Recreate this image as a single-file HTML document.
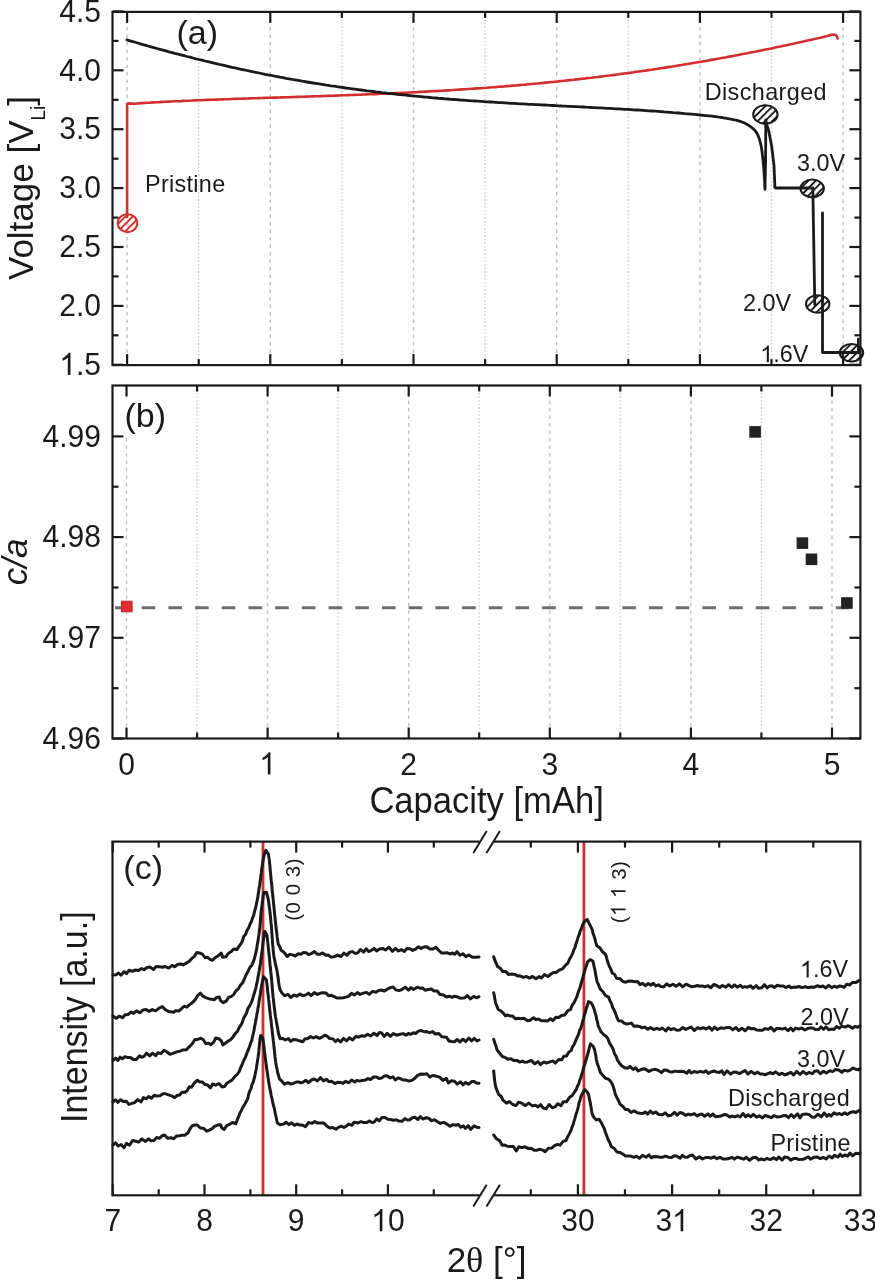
<!DOCTYPE html>
<html><head><meta charset="utf-8"><style>
html,body{margin:0;padding:0;background:#fff;width:875px;height:1280px;overflow:hidden}
</style></head><body>
<svg width="875" height="1280" viewBox="0 0 875 1280" style="display:block;will-change:transform">
<rect width="875" height="1280" fill="#fff"/>
<g font-family='"Liberation Sans", sans-serif' fill="#1a1a1a">
<line x1="127.1" y1="11.9" x2="127.1" y2="365.1" stroke="#c0c0c0" stroke-width="1.4" stroke-dasharray="3.6,3.9"/>
<line x1="198.7" y1="11.9" x2="198.7" y2="365.1" stroke="#d4d4d4" stroke-width="1.3" stroke-dasharray="1.8,1.8"/>
<line x1="270.3" y1="11.9" x2="270.3" y2="365.1" stroke="#c0c0c0" stroke-width="1.4" stroke-dasharray="3.6,3.9"/>
<line x1="341.9" y1="11.9" x2="341.9" y2="365.1" stroke="#d4d4d4" stroke-width="1.3" stroke-dasharray="1.8,1.8"/>
<line x1="413.5" y1="11.9" x2="413.5" y2="365.1" stroke="#c0c0c0" stroke-width="1.4" stroke-dasharray="3.6,3.9"/>
<line x1="485.1" y1="11.9" x2="485.1" y2="365.1" stroke="#d4d4d4" stroke-width="1.3" stroke-dasharray="1.8,1.8"/>
<line x1="556.7" y1="11.9" x2="556.7" y2="365.1" stroke="#c0c0c0" stroke-width="1.4" stroke-dasharray="3.6,3.9"/>
<line x1="628.3" y1="11.9" x2="628.3" y2="365.1" stroke="#d4d4d4" stroke-width="1.3" stroke-dasharray="1.8,1.8"/>
<line x1="699.9" y1="11.9" x2="699.9" y2="365.1" stroke="#c0c0c0" stroke-width="1.4" stroke-dasharray="3.6,3.9"/>
<line x1="771.5" y1="11.9" x2="771.5" y2="365.1" stroke="#d4d4d4" stroke-width="1.3" stroke-dasharray="1.8,1.8"/>
<line x1="843.1" y1="11.9" x2="843.1" y2="365.1" stroke="#c0c0c0" stroke-width="1.4" stroke-dasharray="3.6,3.9"/>
<rect x="112.5" y="11.9" width="747.9" height="353.20000000000005" fill="none" stroke="#1a1a1a" stroke-width="2.2"/>
<line x1="127.1" y1="365.1" x2="127.1" y2="354.1" stroke="#1a1a1a" stroke-width="2.2"/>
<line x1="127.1" y1="11.9" x2="127.1" y2="22.9" stroke="#1a1a1a" stroke-width="2.2"/>
<line x1="198.7" y1="365.1" x2="198.7" y2="359.1" stroke="#1a1a1a" stroke-width="2.2"/>
<line x1="198.7" y1="11.9" x2="198.7" y2="17.9" stroke="#1a1a1a" stroke-width="2.2"/>
<line x1="270.3" y1="365.1" x2="270.3" y2="354.1" stroke="#1a1a1a" stroke-width="2.2"/>
<line x1="270.3" y1="11.9" x2="270.3" y2="22.9" stroke="#1a1a1a" stroke-width="2.2"/>
<line x1="341.9" y1="365.1" x2="341.9" y2="359.1" stroke="#1a1a1a" stroke-width="2.2"/>
<line x1="341.9" y1="11.9" x2="341.9" y2="17.9" stroke="#1a1a1a" stroke-width="2.2"/>
<line x1="413.5" y1="365.1" x2="413.5" y2="354.1" stroke="#1a1a1a" stroke-width="2.2"/>
<line x1="413.5" y1="11.9" x2="413.5" y2="22.9" stroke="#1a1a1a" stroke-width="2.2"/>
<line x1="485.1" y1="365.1" x2="485.1" y2="359.1" stroke="#1a1a1a" stroke-width="2.2"/>
<line x1="485.1" y1="11.9" x2="485.1" y2="17.9" stroke="#1a1a1a" stroke-width="2.2"/>
<line x1="556.7" y1="365.1" x2="556.7" y2="354.1" stroke="#1a1a1a" stroke-width="2.2"/>
<line x1="556.7" y1="11.9" x2="556.7" y2="22.9" stroke="#1a1a1a" stroke-width="2.2"/>
<line x1="628.3" y1="365.1" x2="628.3" y2="359.1" stroke="#1a1a1a" stroke-width="2.2"/>
<line x1="628.3" y1="11.9" x2="628.3" y2="17.9" stroke="#1a1a1a" stroke-width="2.2"/>
<line x1="699.9" y1="365.1" x2="699.9" y2="354.1" stroke="#1a1a1a" stroke-width="2.2"/>
<line x1="699.9" y1="11.9" x2="699.9" y2="22.9" stroke="#1a1a1a" stroke-width="2.2"/>
<line x1="771.5" y1="365.1" x2="771.5" y2="359.1" stroke="#1a1a1a" stroke-width="2.2"/>
<line x1="771.5" y1="11.9" x2="771.5" y2="17.9" stroke="#1a1a1a" stroke-width="2.2"/>
<line x1="843.1" y1="365.1" x2="843.1" y2="354.1" stroke="#1a1a1a" stroke-width="2.2"/>
<line x1="843.1" y1="11.9" x2="843.1" y2="22.9" stroke="#1a1a1a" stroke-width="2.2"/>
<line x1="112.5" y1="364.8" x2="123.5" y2="364.8" stroke="#1a1a1a" stroke-width="2.2"/>
<line x1="860.4" y1="364.8" x2="849.4" y2="364.8" stroke="#1a1a1a" stroke-width="2.2"/>
<g transform="translate(101.00,375.00) scale(0.962,1)">
<path transform="translate(-43.37,0.00) scale(0.01523,-0.01523)" d="M763,0 L583,0 L583,1147 Q518,1085 412,1023 Q306,961 222,930 L222,1104 Q372,1174 484,1274 Q596,1374 643,1466 L763,1466 Z"/><text x="-26.02" y="0.00" font-size="31.2" letter-spacing="0.0" >.5</text>
</g>
<line x1="112.5" y1="335.3" x2="118.5" y2="335.3" stroke="#1a1a1a" stroke-width="2.2"/>
<line x1="860.4" y1="335.3" x2="854.4" y2="335.3" stroke="#1a1a1a" stroke-width="2.2"/>
<line x1="112.5" y1="305.9" x2="123.5" y2="305.9" stroke="#1a1a1a" stroke-width="2.2"/>
<line x1="860.4" y1="305.9" x2="849.4" y2="305.9" stroke="#1a1a1a" stroke-width="2.2"/>
<g transform="translate(101.00,316.10) scale(0.962,1)">
<text x="0.0" y="0.0" font-size="31.2" text-anchor="end" >2.0</text>
</g>
<line x1="112.5" y1="276.4" x2="118.5" y2="276.4" stroke="#1a1a1a" stroke-width="2.2"/>
<line x1="860.4" y1="276.4" x2="854.4" y2="276.4" stroke="#1a1a1a" stroke-width="2.2"/>
<line x1="112.5" y1="247.0" x2="123.5" y2="247.0" stroke="#1a1a1a" stroke-width="2.2"/>
<line x1="860.4" y1="247.0" x2="849.4" y2="247.0" stroke="#1a1a1a" stroke-width="2.2"/>
<g transform="translate(101.00,257.20) scale(0.962,1)">
<text x="0.0" y="0.0" font-size="31.2" text-anchor="end" >2.5</text>
</g>
<line x1="112.5" y1="217.6" x2="118.5" y2="217.6" stroke="#1a1a1a" stroke-width="2.2"/>
<line x1="860.4" y1="217.6" x2="854.4" y2="217.6" stroke="#1a1a1a" stroke-width="2.2"/>
<line x1="112.5" y1="188.1" x2="123.5" y2="188.1" stroke="#1a1a1a" stroke-width="2.2"/>
<line x1="860.4" y1="188.1" x2="849.4" y2="188.1" stroke="#1a1a1a" stroke-width="2.2"/>
<g transform="translate(101.00,198.30) scale(0.962,1)">
<text x="0.0" y="0.0" font-size="31.2" text-anchor="end" >3.0</text>
</g>
<line x1="112.5" y1="158.7" x2="118.5" y2="158.7" stroke="#1a1a1a" stroke-width="2.2"/>
<line x1="860.4" y1="158.7" x2="854.4" y2="158.7" stroke="#1a1a1a" stroke-width="2.2"/>
<line x1="112.5" y1="129.2" x2="123.5" y2="129.2" stroke="#1a1a1a" stroke-width="2.2"/>
<line x1="860.4" y1="129.2" x2="849.4" y2="129.2" stroke="#1a1a1a" stroke-width="2.2"/>
<g transform="translate(101.00,139.40) scale(0.962,1)">
<text x="0.0" y="0.0" font-size="31.2" text-anchor="end" >3.5</text>
</g>
<line x1="112.5" y1="99.8" x2="118.5" y2="99.8" stroke="#1a1a1a" stroke-width="2.2"/>
<line x1="860.4" y1="99.8" x2="854.4" y2="99.8" stroke="#1a1a1a" stroke-width="2.2"/>
<line x1="112.5" y1="70.3" x2="123.5" y2="70.3" stroke="#1a1a1a" stroke-width="2.2"/>
<line x1="860.4" y1="70.3" x2="849.4" y2="70.3" stroke="#1a1a1a" stroke-width="2.2"/>
<g transform="translate(101.00,80.50) scale(0.962,1)">
<text x="0.0" y="0.0" font-size="31.2" text-anchor="end" >4.0</text>
</g>
<line x1="112.5" y1="40.9" x2="118.5" y2="40.9" stroke="#1a1a1a" stroke-width="2.2"/>
<line x1="860.4" y1="40.9" x2="854.4" y2="40.9" stroke="#1a1a1a" stroke-width="2.2"/>
<line x1="112.5" y1="11.4" x2="123.5" y2="11.4" stroke="#1a1a1a" stroke-width="2.2"/>
<line x1="860.4" y1="11.4" x2="849.4" y2="11.4" stroke="#1a1a1a" stroke-width="2.2"/>
<g transform="translate(101.00,21.60) scale(0.962,1)">
<text x="0.0" y="0.0" font-size="31.2" text-anchor="end" >4.5</text>
</g>
<defs>
<pattern id="hk" patternUnits="userSpaceOnUse" width="5.2" height="5.2" patternTransform="rotate(-45)"><line x1="0" y1="2.6" x2="5.2" y2="2.6" stroke="#1a1a1a" stroke-width="1.9"/></pattern>
<pattern id="hr" patternUnits="userSpaceOnUse" width="5.2" height="5.2" patternTransform="rotate(-45)"><line x1="0" y1="2.6" x2="5.2" y2="2.6" stroke="#e02626" stroke-width="1.9"/></pattern>
</defs>
<path d="M127.1,217.0 L127.1,104.0 L129.0,103.4 L135.0,103.8 L141.0,103.1 L147.4,102.7 L150.4,102.6 L153.4,102.4 L156.4,102.2 L159.4,102.1 L162.4,101.9 L165.4,101.8 L168.4,101.6 L171.4,101.5 L174.4,101.3 L177.4,101.2 L180.4,101.1 L183.4,100.9 L186.4,100.8 L189.4,100.7 L192.4,100.5 L195.4,100.4 L198.4,100.3 L201.4,100.2 L204.4,100.0 L207.4,99.9 L210.4,99.8 L213.4,99.7 L216.4,99.6 L219.4,99.5 L222.4,99.4 L225.4,99.3 L228.4,99.2 L231.4,99.0 L234.4,98.9 L237.4,98.8 L240.4,98.7 L243.4,98.6 L246.4,98.5 L249.4,98.4 L252.4,98.3 L255.4,98.2 L258.4,98.1 L261.4,98.0 L264.4,97.9 L267.4,97.8 L270.4,97.7 L273.4,97.6 L276.4,97.6 L279.4,97.5 L282.4,97.4 L285.4,97.3 L288.4,97.2 L291.4,97.1 L294.4,97.0 L297.4,96.9 L300.4,96.8 L303.4,96.7 L306.4,96.6 L309.4,96.5 L312.4,96.4 L315.4,96.3 L318.4,96.2 L321.4,96.1 L324.4,96.0 L327.4,95.9 L330.4,95.8 L333.4,95.7 L336.4,95.6 L339.4,95.5 L342.4,95.3 L345.4,95.2 L348.4,95.1 L351.4,95.0 L354.4,94.9 L357.4,94.8 L360.4,94.7 L363.4,94.5 L366.4,94.4 L369.4,94.3 L372.4,94.2 L375.4,94.1 L378.4,93.9 L381.4,93.8 L384.4,93.7 L387.4,93.5 L390.4,93.4 L393.4,93.3 L396.4,93.1 L399.4,93.0 L402.4,92.8 L405.4,92.7 L408.4,92.5 L411.4,92.4 L414.4,92.2 L417.4,92.1 L420.4,91.9 L423.4,91.8 L426.4,91.6 L429.4,91.4 L432.4,91.3 L435.4,91.1 L438.4,90.9 L441.4,90.8 L444.4,90.6 L447.4,90.4 L450.4,90.2 L453.4,90.0 L456.4,89.8 L459.4,89.6 L462.4,89.4 L465.4,89.2 L468.4,89.0 L471.4,88.8 L474.4,88.6 L477.4,88.4 L480.4,88.2 L483.4,88.0 L486.4,87.8 L489.4,87.5 L492.4,87.3 L495.4,87.1 L498.4,86.8 L501.4,86.6 L504.4,86.4 L507.4,86.1 L510.4,85.9 L513.4,85.6 L516.4,85.4 L519.4,85.1 L522.4,84.8 L525.4,84.6 L528.4,84.3 L531.4,84.0 L534.4,83.7 L537.4,83.5 L540.4,83.2 L543.4,82.9 L546.4,82.6 L549.4,82.3 L552.4,82.0 L555.4,81.7 L558.4,81.4 L561.4,81.0 L564.4,80.7 L567.4,80.4 L570.4,80.1 L573.4,79.8 L576.4,79.4 L579.4,79.1 L582.4,78.7 L585.4,78.4 L588.4,78.0 L591.4,77.7 L594.4,77.3 L597.4,77.0 L600.4,76.6 L603.4,76.2 L606.4,75.8 L609.4,75.5 L612.4,75.1 L615.4,74.7 L618.4,74.3 L621.4,73.9 L624.4,73.5 L627.4,73.1 L630.4,72.7 L633.4,72.3 L636.4,71.8 L639.4,71.4 L642.4,71.0 L645.4,70.6 L648.4,70.1 L651.4,69.7 L654.4,69.2 L657.4,68.8 L660.4,68.3 L663.4,67.9 L666.4,67.4 L669.4,66.9 L672.4,66.5 L675.4,66.0 L678.4,65.5 L681.4,65.0 L684.4,64.5 L687.4,64.0 L690.4,63.5 L693.4,63.0 L696.4,62.5 L699.4,62.0 L702.4,61.5 L705.4,61.0 L708.4,60.4 L711.4,59.9 L714.4,59.4 L717.4,58.8 L720.4,58.3 L723.4,57.7 L726.4,57.2 L729.4,56.6 L732.4,56.1 L735.4,55.5 L738.4,54.9 L741.4,54.3 L744.4,53.8 L747.4,53.2 L750.4,52.6 L753.4,52.0 L756.4,51.4 L759.4,50.8 L762.4,50.2 L765.4,49.6 L768.4,49.0 L771.4,48.4 L774.4,47.7 L777.4,47.1 L780.4,46.5 L783.4,45.8 L786.4,45.2 L789.4,44.5 L792.4,43.9 L795.4,43.2 L798.4,42.6 L801.4,41.9 L804.4,41.3 L807.4,40.6 L810.4,39.9 L813.4,39.2 L816.4,38.6 L819.4,37.9 L822.4,37.2 L825.4,36.5 L828.4,35.8 L831.0,34.7 L834.5,34.6 L836.5,35.6 L837.6,38.5" fill="none" stroke="#d42e2e" stroke-width="2.6" stroke-linejoin="round" stroke-linecap="round" />
<path d="M127.0,39.9 L130.0,40.8 L133.0,41.7 L136.0,42.5 L139.0,43.4 L142.0,44.3 L145.0,45.1 L148.0,46.0 L151.0,46.8 L154.0,47.7 L157.0,48.5 L160.0,49.3 L163.0,50.1 L166.0,50.9 L169.0,51.8 L172.0,52.6 L175.0,53.4 L178.0,54.1 L181.0,54.9 L184.0,55.7 L187.0,56.5 L190.0,57.2 L193.0,58.0 L196.0,58.8 L199.0,59.5 L202.0,60.2 L205.0,61.0 L208.0,61.7 L211.0,62.4 L214.0,63.1 L217.0,63.8 L220.0,64.5 L223.0,65.2 L226.0,65.9 L229.0,66.6 L232.0,67.3 L235.0,67.9 L238.0,68.6 L241.0,69.3 L244.0,69.9 L247.0,70.5 L250.0,71.2 L253.0,71.8 L256.0,72.4 L259.0,73.0 L262.0,73.7 L265.0,74.3 L268.0,74.8 L271.0,75.4 L274.0,76.0 L277.0,76.6 L280.0,77.2 L283.0,77.7 L286.0,78.3 L289.0,78.8 L292.0,79.4 L295.0,79.9 L298.0,80.4 L301.0,80.9 L304.0,81.5 L307.0,82.0 L310.0,82.5 L313.0,83.0 L316.0,83.4 L319.0,83.9 L322.0,84.4 L325.0,84.9 L328.0,85.3 L331.0,85.8 L334.0,86.2 L337.0,86.7 L340.0,87.1 L343.0,87.5 L346.0,88.0 L349.0,88.4 L352.0,88.8 L355.0,89.2 L358.0,89.6 L361.0,90.0 L364.0,90.4 L367.0,90.8 L370.0,91.1 L373.0,91.5 L376.0,91.9 L379.0,92.2 L382.0,92.6 L385.0,92.9 L388.0,93.3 L391.0,93.6 L394.0,93.9 L397.0,94.3 L400.0,94.6 L403.0,94.9 L406.0,95.2 L409.0,95.5 L412.0,95.8 L415.0,96.1 L418.0,96.4 L421.0,96.7 L424.0,97.0 L427.0,97.2 L430.0,97.5 L433.0,97.8 L436.0,98.0 L439.0,98.3 L442.0,98.5 L445.0,98.8 L448.0,99.0 L451.0,99.3 L454.0,99.5 L457.0,99.7 L460.0,100.0 L463.0,100.2 L466.0,100.4 L469.0,100.6 L472.0,100.8 L475.0,101.0 L478.0,101.2 L481.0,101.4 L484.0,101.6 L487.0,101.8 L490.0,102.0 L493.0,102.2 L496.0,102.4 L499.0,102.6 L502.0,102.7 L505.0,102.9 L508.0,103.1 L511.0,103.3 L514.0,103.4 L517.0,103.6 L520.0,103.8 L523.0,103.9 L526.0,104.1 L529.0,104.3 L532.0,104.4 L535.0,104.6 L538.0,104.7 L541.0,104.9 L544.0,105.0 L547.0,105.2 L550.0,105.4 L553.0,105.5 L556.0,105.7 L559.0,105.8 L562.0,106.0 L565.0,106.1 L568.0,106.3 L571.0,106.4 L574.0,106.6 L577.0,106.7 L580.0,106.9 L583.0,107.0 L586.0,107.2 L589.0,107.3 L592.0,107.5 L595.0,107.6 L598.0,107.8 L601.0,107.9 L604.0,108.1 L607.0,108.3 L610.0,108.4 L613.0,108.6 L616.0,108.8 L619.0,108.9 L622.0,109.1 L625.0,109.3 L628.0,109.4 L631.0,109.6 L634.0,109.8 L637.0,110.0 L640.0,110.2 L643.0,110.4 L646.0,110.6 L649.0,110.8 L652.0,111.0 L655.0,111.2 L658.0,111.4 L661.0,111.6 L664.0,111.9 L667.0,112.1 L670.0,112.3 L673.0,112.6 L676.0,112.8 L679.0,113.0 L682.0,113.3 L685.0,113.6 L688.0,113.8 L691.0,114.1 L694.0,114.4 L697.0,114.7 L700.0,115.0 L703.0,115.3 L706.0,115.6 L709.0,115.9 L712.0,116.2 L715.0,116.6 L716.1,116.6 L717.2,116.8 L718.2,117.0 L719.3,117.2 L720.3,117.3 L721.4,117.5 L722.5,117.7 L723.6,117.9 L724.7,118.1 L725.8,118.2 L726.8,118.4 L727.9,118.6 L729.0,118.8 L730.0,119.0 L731.1,119.2 L732.1,119.4 L733.1,119.6 L734.1,119.8 L735.1,120.0 L736.0,120.2 L737.0,120.4 L737.8,120.6 L738.7,120.9 L739.5,121.1 L740.3,121.4 L741.4,121.8 L742.5,122.2 L743.5,122.6 L744.5,123.1 L745.4,123.5 L746.3,124.0 L747.1,124.4 L747.9,124.9 L748.7,125.4 L749.5,126.0 L750.3,126.5 L751.2,127.2 L752.1,127.9 L753.0,128.6 L753.8,129.3 L754.5,130.1 L755.3,130.9 L756.0,131.8 L756.6,132.7 L757.1,133.6 L757.6,134.5 L758.0,135.4 L758.4,136.4 L758.8,137.4 L759.2,138.4 L759.5,139.5 L759.8,140.5 L760.1,141.7 L760.4,142.8 L760.6,143.7 L760.8,144.6 L761.0,145.6 L761.2,146.6 L761.4,147.6 L761.6,148.6 L761.7,149.6 L761.9,150.7 L762.0,151.8 L762.2,152.8 L762.3,153.9 L762.4,154.9 L762.5,156.0 L762.7,157.0 L762.8,158.1 L762.9,159.1 L763.0,160.2 L763.1,161.2 L763.2,162.3 L763.3,163.4 L763.4,164.4 L763.5,165.5 L763.6,166.6 L763.7,167.6 L763.8,168.7 L763.8,169.8 L763.9,170.8 L764.0,171.9 L764.1,172.9 L764.1,174.0 L764.2,175.0 L764.3,176.0 L764.3,177.1 L764.4,178.1 L764.5,179.1 L764.5,180.2 L764.6,181.2 L764.6,182.2 L764.7,183.2 L764.7,184.2 L764.8,185.2 L764.8,186.2 L764.9,187.3 L764.9,188.3 L765.0,189.3 L765.6,160.0 L765.8,120.0 L766.5,124.0 L768.6,130.2 L771.7,146.6 L774.0,165.4 L774.9,187.4 L775.5,188.0 L812.8,188.0 L813.8,245.0 L814.8,305.0" fill="none" stroke="#1a1a1a" stroke-width="2.8" stroke-linejoin="round" stroke-linecap="round" />
<path d="M822.5,213.0 L822.5,352.5 L860.0,352.5" fill="none" stroke="#1a1a1a" stroke-width="2.8" stroke-linejoin="round" stroke-linecap="round" />
<path d="M858.2,339.0 L858.2,353.0" fill="none" stroke="#1a1a1a" stroke-width="2.4" stroke-linejoin="round" stroke-linecap="round" />
<ellipse cx="127.5" cy="223.2" rx="9.8" ry="9" fill="url(#hr)" stroke="#d42e2e" stroke-width="2"/>
<ellipse cx="765.4" cy="114.5" rx="12.2" ry="9.2" fill="url(#hk)" stroke="#1a1a1a" stroke-width="2"/>
<ellipse cx="812.2" cy="188.4" rx="11.7" ry="8.8" fill="url(#hk)" stroke="#1a1a1a" stroke-width="2"/>
<ellipse cx="817.7" cy="304" rx="11.7" ry="8.8" fill="url(#hk)" stroke="#1a1a1a" stroke-width="2"/>
<ellipse cx="851.5" cy="352.8" rx="11.7" ry="8.8" fill="url(#hk)" stroke="#1a1a1a" stroke-width="2"/>
<text x="145.1" y="192.4" font-size="23.4" text-anchor="start" letter-spacing="0.3">Pristine</text>
<text x="704.7" y="99.8" font-size="23.4" text-anchor="start" letter-spacing="0.4">Discharged</text>
<text x="845.1" y="171.0" font-size="23.4" text-anchor="end" >3.0V</text>
<text x="791.2" y="310.8" font-size="23.4" text-anchor="end" >2.0V</text>
<path transform="translate(760.16,362.20) scale(0.01143,-0.01143)" d="M763,0 L583,0 L583,1147 Q518,1085 412,1023 Q306,961 222,930 L222,1104 Q372,1174 484,1274 Q596,1374 643,1466 L763,1466 Z"/><text x="773.18" y="362.20" font-size="23.4" letter-spacing="0.0" >.6V</text>
<rect x="176" y="13.1" width="43" height="37.4" fill="#fff"/>
<text x="197.2" y="43.8" font-size="34" text-anchor="middle" >(a)</text>
<text transform="translate(32.8,280) rotate(-90) scale(0.972,1)" font-size="36">Voltage [V<tspan font-size="19.5" dy="11.8">Li</tspan><tspan dy="-11.8">]</tspan></text>
<line x1="126.5" y1="385.5" x2="126.5" y2="738.5" stroke="#c0c0c0" stroke-width="1.4" stroke-dasharray="3.6,3.9"/>
<line x1="197.1" y1="385.5" x2="197.1" y2="738.5" stroke="#d4d4d4" stroke-width="1.3" stroke-dasharray="1.8,1.8"/>
<line x1="267.6" y1="385.5" x2="267.6" y2="738.5" stroke="#c0c0c0" stroke-width="1.4" stroke-dasharray="3.6,3.9"/>
<line x1="338.1" y1="385.5" x2="338.1" y2="738.5" stroke="#d4d4d4" stroke-width="1.3" stroke-dasharray="1.8,1.8"/>
<line x1="408.7" y1="385.5" x2="408.7" y2="738.5" stroke="#c0c0c0" stroke-width="1.4" stroke-dasharray="3.6,3.9"/>
<line x1="479.2" y1="385.5" x2="479.2" y2="738.5" stroke="#d4d4d4" stroke-width="1.3" stroke-dasharray="1.8,1.8"/>
<line x1="549.8" y1="385.5" x2="549.8" y2="738.5" stroke="#c0c0c0" stroke-width="1.4" stroke-dasharray="3.6,3.9"/>
<line x1="620.3" y1="385.5" x2="620.3" y2="738.5" stroke="#d4d4d4" stroke-width="1.3" stroke-dasharray="1.8,1.8"/>
<line x1="690.9" y1="385.5" x2="690.9" y2="738.5" stroke="#c0c0c0" stroke-width="1.4" stroke-dasharray="3.6,3.9"/>
<line x1="761.4" y1="385.5" x2="761.4" y2="738.5" stroke="#d4d4d4" stroke-width="1.3" stroke-dasharray="1.8,1.8"/>
<line x1="832.0" y1="385.5" x2="832.0" y2="738.5" stroke="#c0c0c0" stroke-width="1.4" stroke-dasharray="3.6,3.9"/>
<rect x="112.5" y="385.5" width="747.9" height="353.0" fill="none" stroke="#1a1a1a" stroke-width="2.2"/>
<line x1="126.5" y1="738.5" x2="126.5" y2="727.5" stroke="#1a1a1a" stroke-width="2.2"/>
<line x1="126.5" y1="385.5" x2="126.5" y2="396.5" stroke="#1a1a1a" stroke-width="2.2"/>
<line x1="197.1" y1="738.5" x2="197.1" y2="732.5" stroke="#1a1a1a" stroke-width="2.2"/>
<line x1="197.1" y1="385.5" x2="197.1" y2="391.5" stroke="#1a1a1a" stroke-width="2.2"/>
<line x1="267.6" y1="738.5" x2="267.6" y2="727.5" stroke="#1a1a1a" stroke-width="2.2"/>
<line x1="267.6" y1="385.5" x2="267.6" y2="396.5" stroke="#1a1a1a" stroke-width="2.2"/>
<line x1="338.1" y1="738.5" x2="338.1" y2="732.5" stroke="#1a1a1a" stroke-width="2.2"/>
<line x1="338.1" y1="385.5" x2="338.1" y2="391.5" stroke="#1a1a1a" stroke-width="2.2"/>
<line x1="408.7" y1="738.5" x2="408.7" y2="727.5" stroke="#1a1a1a" stroke-width="2.2"/>
<line x1="408.7" y1="385.5" x2="408.7" y2="396.5" stroke="#1a1a1a" stroke-width="2.2"/>
<line x1="479.2" y1="738.5" x2="479.2" y2="732.5" stroke="#1a1a1a" stroke-width="2.2"/>
<line x1="479.2" y1="385.5" x2="479.2" y2="391.5" stroke="#1a1a1a" stroke-width="2.2"/>
<line x1="549.8" y1="738.5" x2="549.8" y2="727.5" stroke="#1a1a1a" stroke-width="2.2"/>
<line x1="549.8" y1="385.5" x2="549.8" y2="396.5" stroke="#1a1a1a" stroke-width="2.2"/>
<line x1="620.3" y1="738.5" x2="620.3" y2="732.5" stroke="#1a1a1a" stroke-width="2.2"/>
<line x1="620.3" y1="385.5" x2="620.3" y2="391.5" stroke="#1a1a1a" stroke-width="2.2"/>
<line x1="690.9" y1="738.5" x2="690.9" y2="727.5" stroke="#1a1a1a" stroke-width="2.2"/>
<line x1="690.9" y1="385.5" x2="690.9" y2="396.5" stroke="#1a1a1a" stroke-width="2.2"/>
<line x1="761.4" y1="738.5" x2="761.4" y2="732.5" stroke="#1a1a1a" stroke-width="2.2"/>
<line x1="761.4" y1="385.5" x2="761.4" y2="391.5" stroke="#1a1a1a" stroke-width="2.2"/>
<line x1="832.0" y1="738.5" x2="832.0" y2="727.5" stroke="#1a1a1a" stroke-width="2.2"/>
<line x1="832.0" y1="385.5" x2="832.0" y2="396.5" stroke="#1a1a1a" stroke-width="2.2"/>
<line x1="112.5" y1="738.5" x2="123.5" y2="738.5" stroke="#1a1a1a" stroke-width="2.2"/>
<line x1="860.4" y1="738.5" x2="849.4" y2="738.5" stroke="#1a1a1a" stroke-width="2.2"/>
<g transform="translate(101.00,748.70) scale(0.962,1)">
<text x="0.0" y="0.0" font-size="31.2" text-anchor="end" >4.96</text>
</g>
<line x1="112.5" y1="688.2" x2="118.5" y2="688.2" stroke="#1a1a1a" stroke-width="2.2"/>
<line x1="860.4" y1="688.2" x2="854.4" y2="688.2" stroke="#1a1a1a" stroke-width="2.2"/>
<line x1="112.5" y1="637.8" x2="123.5" y2="637.8" stroke="#1a1a1a" stroke-width="2.2"/>
<line x1="860.4" y1="637.8" x2="849.4" y2="637.8" stroke="#1a1a1a" stroke-width="2.2"/>
<g transform="translate(101.00,648.00) scale(0.962,1)">
<text x="0.0" y="0.0" font-size="31.2" text-anchor="end" >4.97</text>
</g>
<line x1="112.5" y1="587.5" x2="118.5" y2="587.5" stroke="#1a1a1a" stroke-width="2.2"/>
<line x1="860.4" y1="587.5" x2="854.4" y2="587.5" stroke="#1a1a1a" stroke-width="2.2"/>
<line x1="112.5" y1="537.1" x2="123.5" y2="537.1" stroke="#1a1a1a" stroke-width="2.2"/>
<line x1="860.4" y1="537.1" x2="849.4" y2="537.1" stroke="#1a1a1a" stroke-width="2.2"/>
<g transform="translate(101.00,547.30) scale(0.962,1)">
<text x="0.0" y="0.0" font-size="31.2" text-anchor="end" >4.98</text>
</g>
<line x1="112.5" y1="486.7" x2="118.5" y2="486.7" stroke="#1a1a1a" stroke-width="2.2"/>
<line x1="860.4" y1="486.7" x2="854.4" y2="486.7" stroke="#1a1a1a" stroke-width="2.2"/>
<line x1="112.5" y1="436.4" x2="123.5" y2="436.4" stroke="#1a1a1a" stroke-width="2.2"/>
<line x1="860.4" y1="436.4" x2="849.4" y2="436.4" stroke="#1a1a1a" stroke-width="2.2"/>
<g transform="translate(101.00,446.60) scale(0.962,1)">
<text x="0.0" y="0.0" font-size="31.2" text-anchor="end" >4.99</text>
</g>
<g transform="translate(126.50,774.50) scale(0.962,1)">
<text x="0.0" y="0.0" font-size="31.2" text-anchor="middle" >0</text>
</g>
<g transform="translate(267.60,774.50) scale(0.962,1)">
<path transform="translate(-8.68,0.00) scale(0.01523,-0.01523)" d="M763,0 L583,0 L583,1147 Q518,1085 412,1023 Q306,961 222,930 L222,1104 Q372,1174 484,1274 Q596,1374 643,1466 L763,1466 Z"/>
</g>
<g transform="translate(408.70,774.50) scale(0.962,1)">
<text x="0.0" y="0.0" font-size="31.2" text-anchor="middle" >2</text>
</g>
<g transform="translate(549.80,774.50) scale(0.962,1)">
<text x="0.0" y="0.0" font-size="31.2" text-anchor="middle" >3</text>
</g>
<g transform="translate(690.90,774.50) scale(0.962,1)">
<text x="0.0" y="0.0" font-size="31.2" text-anchor="middle" >4</text>
</g>
<g transform="translate(832.00,774.50) scale(0.962,1)">
<text x="0.0" y="0.0" font-size="31.2" text-anchor="middle" >5</text>
</g>
<text transform="translate(486.6,812.7) scale(0.945,1)" font-size="36.6" text-anchor="middle">Capacity [mAh]</text>
<rect x="123.5" y="398" width="43.5" height="38" fill="#fff"/>
<text x="145.2" y="427.4" font-size="34" text-anchor="middle" >(b)</text>
<text transform="translate(26.8,585.2) rotate(-90)" font-size="35" font-style="italic">c/a</text>
<line x1="115" y1="607.8" x2="850" y2="607.8" stroke="#6c6c6c" stroke-width="3" stroke-dasharray="13.6,13.1"/>
<rect x="121.50" y="601.20" width="10.6" height="10.6" fill="#ea2a2e" stroke="#b82828" stroke-width="1"/>
<rect x="749.30" y="426.10" width="11.6" height="11.6" fill="#222"/>
<rect x="796.60" y="537.30" width="11.6" height="11.6" fill="#222"/>
<rect x="805.70" y="553.50" width="11.6" height="11.6" fill="#222"/>
<rect x="841.10" y="597.20" width="11.6" height="11.6" fill="#222"/>
<line x1="263" y1="841.6" x2="263" y2="1195.3" stroke="#d42e2e" stroke-width="2.8"/>
<line x1="583.9" y1="841.6" x2="583.9" y2="1195.3" stroke="#d42e2e" stroke-width="2.8"/>
<rect x="112.5" y="841.6" width="747.9" height="353.69999999999993" fill="none" stroke="#1a1a1a" stroke-width="2.2"/>
<rect x="479.5" y="838.6" width="14.5" height="6" fill="#fff"/>
<rect x="479.5" y="1192.3" width="14.5" height="6" fill="#fff"/>
<line x1="473.3" y1="852.9" x2="486.7" y2="831.0" stroke="#1a1a1a" stroke-width="2"/>
<line x1="486.5" y1="852.9" x2="499.9" y2="831.0" stroke="#1a1a1a" stroke-width="2"/>
<line x1="473.3" y1="1206.6" x2="486.7" y2="1184.7" stroke="#1a1a1a" stroke-width="2"/>
<line x1="486.5" y1="1206.6" x2="499.9" y2="1184.7" stroke="#1a1a1a" stroke-width="2"/>
<line x1="112.8" y1="1195.3" x2="112.8" y2="1184.3" stroke="#1a1a1a" stroke-width="2.2"/>
<line x1="112.8" y1="841.6" x2="112.8" y2="852.6" stroke="#1a1a1a" stroke-width="2.2"/>
<g transform="translate(112.80,1231.30) scale(0.962,1)">
<text x="0.0" y="0.0" font-size="31.2" text-anchor="middle" >7</text>
</g>
<line x1="158.7" y1="1195.3" x2="158.7" y2="1189.3" stroke="#1a1a1a" stroke-width="2.2"/>
<line x1="158.7" y1="841.6" x2="158.7" y2="847.6" stroke="#1a1a1a" stroke-width="2.2"/>
<line x1="204.5" y1="1195.3" x2="204.5" y2="1184.3" stroke="#1a1a1a" stroke-width="2.2"/>
<line x1="204.5" y1="841.6" x2="204.5" y2="852.6" stroke="#1a1a1a" stroke-width="2.2"/>
<g transform="translate(204.50,1231.30) scale(0.962,1)">
<text x="0.0" y="0.0" font-size="31.2" text-anchor="middle" >8</text>
</g>
<line x1="250.4" y1="1195.3" x2="250.4" y2="1189.3" stroke="#1a1a1a" stroke-width="2.2"/>
<line x1="250.4" y1="841.6" x2="250.4" y2="847.6" stroke="#1a1a1a" stroke-width="2.2"/>
<line x1="296.2" y1="1195.3" x2="296.2" y2="1184.3" stroke="#1a1a1a" stroke-width="2.2"/>
<line x1="296.2" y1="841.6" x2="296.2" y2="852.6" stroke="#1a1a1a" stroke-width="2.2"/>
<g transform="translate(296.20,1231.30) scale(0.962,1)">
<text x="0.0" y="0.0" font-size="31.2" text-anchor="middle" >9</text>
</g>
<line x1="342.1" y1="1195.3" x2="342.1" y2="1189.3" stroke="#1a1a1a" stroke-width="2.2"/>
<line x1="342.1" y1="841.6" x2="342.1" y2="847.6" stroke="#1a1a1a" stroke-width="2.2"/>
<line x1="387.9" y1="1195.3" x2="387.9" y2="1184.3" stroke="#1a1a1a" stroke-width="2.2"/>
<line x1="387.9" y1="841.6" x2="387.9" y2="852.6" stroke="#1a1a1a" stroke-width="2.2"/>
<g transform="translate(387.90,1231.30) scale(0.962,1)">
<path transform="translate(-17.35,0.00) scale(0.01523,-0.01523)" d="M763,0 L583,0 L583,1147 Q518,1085 412,1023 Q306,961 222,930 L222,1104 Q372,1174 484,1274 Q596,1374 643,1466 L763,1466 Z"/><text x="0.00" y="0.00" font-size="31.2" letter-spacing="0.0" >0</text>
</g>
<line x1="433.8" y1="1195.3" x2="433.8" y2="1189.3" stroke="#1a1a1a" stroke-width="2.2"/>
<line x1="433.8" y1="841.6" x2="433.8" y2="847.6" stroke="#1a1a1a" stroke-width="2.2"/>
<line x1="530.8" y1="1195.3" x2="530.8" y2="1189.3" stroke="#1a1a1a" stroke-width="2.2"/>
<line x1="530.8" y1="841.6" x2="530.8" y2="847.6" stroke="#1a1a1a" stroke-width="2.2"/>
<line x1="577.9" y1="1195.3" x2="577.9" y2="1184.3" stroke="#1a1a1a" stroke-width="2.2"/>
<line x1="577.9" y1="841.6" x2="577.9" y2="852.6" stroke="#1a1a1a" stroke-width="2.2"/>
<g transform="translate(577.90,1231.30) scale(0.962,1)">
<text x="0.0" y="0.0" font-size="31.2" text-anchor="middle" >30</text>
</g>
<line x1="625.0" y1="1195.3" x2="625.0" y2="1189.3" stroke="#1a1a1a" stroke-width="2.2"/>
<line x1="625.0" y1="841.6" x2="625.0" y2="847.6" stroke="#1a1a1a" stroke-width="2.2"/>
<line x1="672.1" y1="1195.3" x2="672.1" y2="1184.3" stroke="#1a1a1a" stroke-width="2.2"/>
<line x1="672.1" y1="841.6" x2="672.1" y2="852.6" stroke="#1a1a1a" stroke-width="2.2"/>
<g transform="translate(672.07,1231.30) scale(0.962,1)">
<text x="-17.35" y="0.00" font-size="31.2" letter-spacing="0.0" >3</text><path transform="translate(0.00,0.00) scale(0.01523,-0.01523)" d="M763,0 L583,0 L583,1147 Q518,1085 412,1023 Q306,961 222,930 L222,1104 Q372,1174 484,1274 Q596,1374 643,1466 L763,1466 Z"/>
</g>
<line x1="719.2" y1="1195.3" x2="719.2" y2="1189.3" stroke="#1a1a1a" stroke-width="2.2"/>
<line x1="719.2" y1="841.6" x2="719.2" y2="847.6" stroke="#1a1a1a" stroke-width="2.2"/>
<line x1="766.2" y1="1195.3" x2="766.2" y2="1184.3" stroke="#1a1a1a" stroke-width="2.2"/>
<line x1="766.2" y1="841.6" x2="766.2" y2="852.6" stroke="#1a1a1a" stroke-width="2.2"/>
<g transform="translate(766.24,1231.30) scale(0.962,1)">
<text x="0.0" y="0.0" font-size="31.2" text-anchor="middle" >32</text>
</g>
<line x1="813.3" y1="1195.3" x2="813.3" y2="1189.3" stroke="#1a1a1a" stroke-width="2.2"/>
<line x1="813.3" y1="841.6" x2="813.3" y2="847.6" stroke="#1a1a1a" stroke-width="2.2"/>
<g transform="translate(860.41,1231.30) scale(0.962,1)">
<text x="0.0" y="0.0" font-size="31.2" text-anchor="middle" >33</text>
</g>
<path d="M113.0,975.0 L116.0,974.8 L118.5,973.1 L121.0,975.2 L124.0,971.6 L126.5,973.7 L129.0,970.3 L132.5,971.3 L135.5,970.0 L138.5,970.4 L141.5,968.5 L144.0,969.7 L147.0,967.5 L150.0,967.1 L153.5,969.5 L156.0,966.5 L159.5,966.8 L162.5,967.2 L165.1,966.5 L168.6,968.1 L172.1,965.4 L174.6,966.8 L178.1,964.2 L180.6,963.9 L183.1,964.9 L185.9,963.4 L189.0,961.5 L191.9,958.4 L194.6,956.3 L196.7,952.6 L199.3,953.0 L202.4,954.2 L205.0,957.7 L207.4,957.2 L210.0,959.4 L212.2,960.3 L214.9,957.8 L218.0,956.0 L221.2,953.2 L222.6,957.3 L225.8,956.8 L228.5,953.3 L231.3,951.5 L233.6,949.1 L236.9,949.6 L239.4,945.8 L241.3,943.1 L242.6,940.5 L243.7,936.4 L245.7,934.2 L246.9,930.5 L248.7,927.8 L250.0,924.2 L251.5,921.4 L252.6,917.8 L253.7,915.3 L254.4,912.0 L255.3,908.8 L256.1,906.0 L256.7,902.3 L257.5,899.2 L258.0,895.7 L258.5,892.4 L259.0,888.7 L259.6,885.7 L260.0,882.4 L260.5,879.3 L260.8,875.9 L261.3,872.7 L261.7,869.0 L262.2,866.0 L262.7,862.7 L263.2,859.7 L263.9,856.4 L264.7,853.1 L265.9,850.4 L268.4,854.1 L268.9,857.5 L269.4,860.7 L269.7,864.0 L270.0,867.1 L270.3,870.7 L270.6,874.1 L270.9,877.0 L271.2,880.4 L271.6,883.5 L271.9,886.6 L272.2,889.9 L272.5,893.3 L272.9,896.7 L273.2,899.7 L273.5,902.8 L273.9,906.5 L274.2,909.9 L274.5,912.8 L274.9,916.3 L275.2,919.6 L275.6,923.0 L275.9,926.3 L276.3,929.6 L276.8,933.1 L277.1,936.7 L277.6,940.0 L278.2,944.0 L279.6,946.4 L281.1,950.3 L283.9,952.2 L287.2,956.5 L289.8,954.4 L292.5,954.9 L295.3,956.0 L298.2,953.7 L301.0,954.3 L303.5,952.4 L306.1,952.7 L308.6,954.7 L311.9,953.3 L314.4,951.5 L317.4,954.3 L319.7,954.3 L322.7,952.9 L325.8,955.2 L328.4,955.1 L331.0,957.1 L334.0,956.8 L337.5,955.1 L341.0,956.5 L344.0,953.1 L347.0,955.3 L349.5,952.2 L352.5,951.6 L355.0,953.4 L357.5,953.1 L360.5,949.5 L363.6,952.2 L366.1,948.8 L368.6,951.6 L371.0,950.6 L374.1,948.4 L376.6,950.9 L379.6,948.9 L383.1,948.5 L385.5,950.0 L389.0,947.2 L392.4,951.3 L395.4,948.4 L398.4,951.0 L401.4,949.6 L404.3,951.4 L406.9,948.4 L410.0,948.8 L412.6,950.4 L415.6,949.1 L418.5,946.7 L421.1,948.5 L423.8,947.0 L426.9,946.8 L429.9,949.0 L432.7,949.1 L435.9,947.4 L438.3,949.9 L441.5,953.0 L444.3,953.1 L447.5,952.8 L450.0,954.0 L452.6,953.0 L454.7,954.2 L456.9,951.6 L460.0,955.3 L462.9,953.7 L465.9,956.6 L468.9,954.9 L472.5,957.3 L475.5,957.3 L479.0,956.9" fill="none" stroke="#1a1a1a" stroke-width="3.0" stroke-linejoin="round" stroke-linecap="round" />
<path d="M493.7,956.7 L494.9,960.5 L496.1,963.0 L497.6,966.7 L500.1,968.0 L502.7,971.5 L505.8,971.6 L508.5,974.4 L511.9,974.1 L514.9,974.4 L517.4,975.9 L519.9,975.8 L523.4,977.4 L526.5,976.5 L529.5,978.1 L532.5,976.4 L536.0,978.8 L539.0,976.6 L541.4,977.9 L544.4,974.5 L547.8,976.5 L551.3,973.8 L553.8,972.4 L556.1,972.5 L559.1,970.1 L562.5,968.9 L565.4,965.4 L568.1,962.8 L569.6,959.0 L571.4,955.9 L572.7,953.4 L573.7,950.2 L575.0,947.5 L576.1,943.4 L577.3,940.3 L578.2,936.9 L579.3,934.4 L580.2,930.9 L581.6,928.2 L582.7,924.4 L584.6,921.2 L587.3,919.6 L589.1,923.3 L591.0,927.0 L592.2,929.7 L593.0,933.3 L594.2,936.6 L595.0,939.2 L595.7,942.1 L596.8,945.7 L600.0,947.9 L602.2,951.5 L605.2,954.0 L606.3,956.3 L607.1,959.7 L608.2,963.4 L609.4,966.3 L610.7,968.9 L612.3,973.1 L614.7,974.6 L616.8,978.6 L620.0,978.6 L622.9,981.5 L625.9,982.2 L628.5,981.0 L632.1,981.3 L635.0,981.7 L637.7,981.6 L640.0,984.6 L642.5,983.3 L645.3,985.7 L648.3,983.5 L650.9,985.2 L653.3,983.3 L655.8,986.0 L658.5,984.8 L660.8,986.4 L663.7,986.9 L666.6,983.8 L669.7,986.0 L672.9,984.2 L676.1,986.3 L679.4,983.9 L682.7,986.9 L686.1,984.2 L689.0,985.6 L691.3,986.7 L694.8,986.3 L697.7,985.5 L700.0,986.3 L702.1,985.9 L704.8,986.9 L708.0,985.7 L710.8,987.8 L713.7,984.5 L716.2,985.2 L719.7,987.5 L722.3,985.5 L725.9,987.2 L728.6,984.7 L731.8,987.3 L734.5,984.9 L737.2,987.2 L740.4,985.3 L742.6,987.4 L744.8,986.6 L747.5,987.3 L750.3,985.7 L753.0,988.3 L756.3,985.6 L758.5,988.4 L761.7,987.7 L764.4,984.7 L767.1,987.9 L769.2,986.2 L771.8,985.7 L774.4,987.4 L777.4,985.3 L779.9,986.1 L783.3,986.1 L785.7,987.6 L789.0,986.0 L791.2,987.8 L793.9,987.1 L796.0,987.3 L799.2,986.5 L801.8,987.6 L805.4,986.7 L808.3,987.6 L811.7,987.1 L814.5,987.2 L817.2,985.8 L820.3,986.8 L822.9,986.0 L825.8,987.9 L828.6,985.4 L831.8,987.6 L834.4,986.2 L836.9,987.3 L839.2,986.1 L841.8,986.3 L844.1,987.4 L846.7,984.3 L849.7,985.0 L852.3,982.5 L855.6,982.6 L859.0,980.6 L860.0,980.7" fill="none" stroke="#1a1a1a" stroke-width="3.0" stroke-linejoin="round" stroke-linecap="round" />
<path d="M113.0,1016.0 L116.1,1018.4 L119.2,1016.2 L122.6,1017.7 L125.1,1014.8 L128.0,1014.5 L131.0,1012.1 L133.4,1013.3 L136.6,1010.9 L139.8,1012.8 L143.0,1010.0 L146.1,1009.5 L148.9,1011.3 L152.4,1009.6 L155.7,1010.8 L159.1,1008.1 L162.3,1006.6 L165.7,1009.9 L168.5,1011.4 L170.8,1011.7 L173.6,1012.2 L176.1,1010.6 L178.7,1011.1 L181.2,1009.0 L184.0,1006.2 L186.8,1007.2 L189.1,1005.1 L192.5,1002.5 L195.0,999.9 L197.6,995.7 L200.4,993.1 L202.9,996.2 L206.4,997.9 L209.5,998.9 L212.1,999.2 L214.4,999.8 L216.5,997.6 L219.4,997.1 L220.4,1000.3 L223.1,1002.7 L226.2,1001.1 L228.5,997.5 L231.1,996.6 L233.7,994.6 L235.6,991.2 L238.5,988.6 L240.6,985.0 L242.8,982.6 L244.3,979.0 L246.0,975.1 L248.1,971.2 L249.8,967.6 L252.0,964.9 L253.4,961.5 L254.5,958.2 L255.3,955.2 L256.1,951.7 L256.8,947.9 L257.4,943.9 L258.0,941.1 L258.5,937.4 L259.0,934.2 L259.4,930.8 L259.8,927.5 L260.1,924.1 L260.4,921.1 L260.6,917.7 L260.9,914.5 L261.2,911.3 L261.6,908.3 L262.0,905.4 L262.3,902.1 L262.8,899.2 L263.3,895.5 L264.0,892.4 L266.4,892.2 L267.4,896.0 L268.2,899.3 L268.8,902.8 L269.2,906.2 L269.7,909.6 L270.0,912.8 L270.4,915.9 L270.7,919.3 L271.0,922.7 L271.4,925.6 L271.6,928.9 L271.8,932.6 L272.1,936.1 L272.3,939.4 L272.5,942.3 L272.8,945.6 L273.1,949.1 L273.4,952.6 L273.9,956.6 L274.6,959.6 L275.2,962.8 L275.9,965.8 L276.5,968.4 L277.1,971.3 L277.7,975.2 L278.2,978.4 L278.6,982.2 L279.1,985.5 L279.9,989.1 L281.8,992.9 L284.9,995.8 L287.8,994.2 L290.8,997.5 L294.1,994.9 L296.7,996.3 L300.0,994.1 L302.9,995.8 L305.9,994.9 L308.4,993.1 L311.0,995.7 L314.3,992.6 L317.5,994.4 L320.6,993.1 L323.0,992.8 L326.1,993.1 L328.5,995.7 L331.3,995.3 L334.2,996.6 L336.9,998.0 L340.1,998.1 L343.1,997.7 L346.1,997.1 L348.8,996.1 L351.5,993.4 L354.4,995.0 L357.4,992.6 L360.1,994.4 L363.3,993.1 L366.5,992.4 L369.2,994.4 L372.6,991.4 L376.0,992.3 L378.7,990.6 L381.4,990.0 L384.4,991.0 L387.2,989.3 L390.3,987.6 L393.2,987.0 L395.9,989.9 L399.1,990.6 L401.9,989.5 L405.2,987.1 L408.4,990.1 L411.0,987.6 L413.5,989.5 L417.2,987.2 L419.9,988.2 L422.5,988.0 L425.1,990.2 L428.1,989.5 L431.4,989.0 L434.1,991.1 L437.2,990.9 L440.0,994.5 L443.0,994.8 L446.4,997.0 L449.3,996.2 L452.0,997.4 L454.4,996.2 L457.0,996.7 L460.1,998.2 L462.8,998.0 L465.0,997.7 L467.2,995.6 L470.5,998.9 L473.8,996.4 L476.4,997.8 L479.0,996.7" fill="none" stroke="#1a1a1a" stroke-width="3.0" stroke-linejoin="round" stroke-linecap="round" />
<path d="M493.7,992.8 L494.3,995.6 L494.9,999.2 L495.6,1003.0 L496.7,1005.6 L498.1,1009.3 L500.5,1010.7 L503.3,1013.1 L505.4,1015.9 L507.7,1015.0 L510.1,1016.1 L512.7,1016.0 L515.3,1018.8 L518.4,1018.2 L520.9,1018.7 L524.0,1018.2 L527.6,1020.7 L530.1,1020.2 L533.6,1017.8 L536.1,1019.7 L538.5,1018.9 L541.4,1020.7 L544.4,1020.7 L547.9,1020.9 L550.4,1018.7 L552.9,1020.6 L555.9,1017.3 L558.7,1017.5 L561.5,1015.5 L564.6,1015.0 L567.9,1010.6 L570.7,1009.3 L572.1,1005.3 L574.2,1002.4 L575.5,999.6 L576.7,997.2 L577.6,994.3 L578.8,990.6 L579.9,988.0 L580.8,984.7 L581.7,981.5 L582.6,978.8 L583.3,975.5 L584.3,972.4 L585.3,968.6 L586.5,965.5 L587.6,961.8 L590.2,959.5 L593.0,961.2 L593.8,965.2 L594.6,968.8 L595.3,971.9 L595.8,975.4 L596.4,978.4 L597.2,982.1 L598.6,984.7 L600.1,988.9 L602.8,991.5 L605.2,995.3 L608.6,997.1 L610.0,1000.8 L611.6,1003.7 L612.5,1007.3 L614.1,1010.1 L615.4,1013.1 L616.6,1016.6 L618.4,1020.7 L621.4,1021.0 L624.1,1023.1 L626.7,1024.0 L628.8,1023.6 L631.5,1023.1 L634.0,1026.3 L637.1,1026.0 L639.4,1026.4 L641.8,1027.7 L644.9,1027.1 L647.8,1029.3 L650.5,1027.5 L653.6,1029.6 L656.9,1028.3 L659.6,1029.5 L662.3,1028.0 L665.7,1031.0 L668.1,1027.8 L671.1,1029.7 L673.7,1028.5 L676.9,1030.2 L679.6,1030.1 L682.9,1027.5 L685.7,1029.4 L688.5,1028.2 L691.3,1027.1 L694.2,1030.5 L697.7,1027.7 L700.4,1028.8 L703.0,1027.7 L706.1,1029.0 L709.3,1027.1 L712.1,1030.2 L714.5,1027.1 L717.4,1029.5 L720.9,1027.8 L723.5,1028.4 L727.1,1027.5 L729.7,1027.4 L732.8,1029.8 L736.0,1027.5 L738.7,1030.5 L741.9,1028.2 L745.2,1030.7 L748.4,1027.4 L751.1,1028.8 L753.9,1028.5 L756.6,1029.9 L759.8,1030.3 L762.5,1030.3 L765.1,1028.6 L768.3,1029.3 L771.0,1027.4 L774.1,1031.0 L776.6,1028.4 L779.7,1028.4 L782.2,1029.1 L785.1,1028.1 L788.0,1030.7 L790.8,1028.0 L793.1,1030.8 L795.7,1028.1 L798.7,1029.1 L801.8,1028.0 L804.7,1030.0 L808.2,1028.3 L810.5,1027.9 L812.9,1027.9 L815.2,1029.6 L818.6,1029.6 L820.9,1026.9 L823.6,1029.3 L825.8,1026.9 L829.0,1029.8 L831.1,1029.1 L834.1,1029.4 L836.5,1026.5 L839.3,1028.2 L841.9,1026.1 L845.1,1027.1 L847.7,1025.8 L850.0,1026.5 L852.5,1028.3 L855.0,1026.4 L857.7,1027.2 L860.0,1025.8" fill="none" stroke="#1a1a1a" stroke-width="3.0" stroke-linejoin="round" stroke-linecap="round" />
<path d="M113.0,1060.4 L115.6,1058.1 L117.9,1060.5 L120.1,1057.2 L122.3,1058.9 L124.8,1056.7 L128.0,1057.6 L130.4,1057.6 L133.8,1059.6 L136.3,1059.5 L139.6,1055.7 L141.8,1057.3 L144.0,1056.4 L146.5,1053.1 L149.7,1055.9 L152.5,1053.2 L155.6,1055.7 L158.0,1052.7 L161.1,1053.6 L164.1,1050.3 L166.7,1051.8 L170.0,1054.3 L173.4,1053.1 L176.8,1051.9 L180.2,1051.1 L183.0,1049.9 L186.1,1049.8 L189.4,1046.7 L192.4,1043.5 L195.0,1039.5 L197.8,1039.4 L200.8,1038.2 L203.1,1039.5 L205.9,1043.8 L208.6,1043.1 L210.8,1044.7 L213.6,1042.3 L215.7,1038.0 L218.8,1038.8 L221.2,1040.7 L222.9,1044.9 L225.6,1043.0 L228.0,1041.2 L230.3,1040.0 L232.7,1037.3 L235.1,1033.8 L237.7,1030.9 L239.3,1027.2 L241.2,1024.8 L242.3,1022.4 L243.6,1018.2 L245.3,1015.4 L246.6,1013.0 L247.8,1008.6 L249.7,1005.8 L251.2,1002.8 L252.3,1000.1 L253.3,996.3 L254.4,993.1 L255.2,990.2 L256.0,987.3 L256.7,983.8 L257.5,980.7 L258.0,977.1 L258.7,973.6 L259.3,970.3 L259.8,966.8 L260.4,963.5 L260.8,960.2 L261.3,956.7 L261.8,953.6 L262.2,950.4 L262.5,947.5 L262.9,944.0 L263.3,940.9 L263.7,937.4 L264.2,934.6 L264.8,931.4 L266.8,934.8 L267.3,938.2 L267.7,941.6 L268.0,944.7 L268.3,947.8 L268.7,951.5 L269.1,954.8 L269.4,957.9 L269.7,960.6 L270.0,964.4 L270.4,967.6 L270.7,971.2 L271.1,974.5 L271.4,977.9 L271.7,981.1 L272.0,984.5 L272.3,987.5 L272.5,990.8 L272.8,993.7 L273.1,997.2 L273.5,1000.1 L273.8,1003.3 L274.2,1006.6 L274.6,1010.0 L275.0,1013.0 L275.4,1016.2 L276.0,1019.2 L276.5,1022.2 L277.1,1025.5 L277.7,1028.6 L278.2,1032.1 L278.9,1034.8 L280.1,1038.8 L282.6,1038.2 L285.3,1039.9 L288.3,1038.6 L290.8,1041.4 L293.1,1039.6 L296.5,1039.8 L299.3,1040.8 L302.7,1041.7 L305.1,1038.7 L307.5,1038.7 L310.6,1036.6 L313.5,1038.0 L316.2,1036.7 L319.4,1038.3 L322.5,1036.8 L325.0,1035.2 L327.1,1036.1 L329.7,1038.6 L332.8,1038.7 L335.4,1041.6 L337.9,1039.6 L340.6,1042.0 L343.6,1038.3 L346.7,1040.8 L349.4,1037.8 L352.6,1040.0 L355.9,1036.3 L358.5,1037.2 L362.0,1035.7 L364.6,1036.2 L367.7,1034.2 L370.8,1036.0 L373.9,1033.2 L377.0,1035.5 L379.4,1032.4 L381.8,1033.0 L384.1,1036.4 L387.2,1033.4 L390.3,1036.3 L393.2,1033.5 L396.6,1035.2 L400.0,1034.3 L403.1,1033.6 L406.2,1035.2 L408.3,1033.5 L410.9,1034.4 L413.3,1032.7 L415.6,1033.5 L418.1,1031.4 L420.9,1030.4 L424.0,1031.7 L426.6,1031.6 L429.6,1032.7 L432.7,1031.6 L435.3,1034.1 L438.7,1033.5 L441.9,1036.8 L444.0,1036.9 L446.5,1037.2 L448.9,1040.9 L451.9,1041.4 L454.5,1041.7 L457.3,1039.5 L459.8,1042.0 L463.0,1039.2 L465.7,1041.6 L468.9,1038.0 L471.6,1041.0 L474.3,1038.4 L477.0,1040.9 L479.0,1040.0" fill="none" stroke="#1a1a1a" stroke-width="3.0" stroke-linejoin="round" stroke-linecap="round" />
<path d="M493.7,1039.4 L494.9,1043.3 L496.0,1046.0 L497.0,1049.9 L499.1,1052.5 L502.1,1056.3 L505.3,1057.6 L507.8,1059.3 L510.9,1058.7 L513.7,1060.6 L517.3,1060.6 L519.9,1062.1 L522.5,1061.1 L524.6,1062.3 L527.6,1061.9 L531.2,1060.3 L534.8,1063.8 L537.9,1061.6 L540.5,1064.6 L543.9,1061.9 L546.5,1063.1 L549.2,1062.1 L552.9,1060.9 L555.4,1063.1 L558.6,1059.4 L561.8,1059.7 L563.8,1056.3 L566.5,1056.1 L568.9,1052.1 L571.2,1050.4 L572.4,1047.1 L574.1,1044.5 L575.5,1041.2 L576.9,1037.7 L578.4,1034.8 L579.5,1030.9 L580.8,1028.1 L581.7,1025.1 L582.6,1021.7 L583.5,1018.6 L584.3,1015.2 L585.4,1012.1 L586.3,1008.4 L587.4,1005.3 L588.5,1001.6 L591.2,1002.9 L593.0,1005.9 L594.2,1009.5 L595.3,1013.3 L596.2,1016.2 L596.7,1019.4 L597.5,1022.1 L598.1,1025.7 L599.3,1028.0 L601.0,1031.8 L603.8,1034.8 L606.1,1036.3 L607.9,1038.7 L609.6,1043.1 L611.8,1046.6 L613.4,1049.8 L614.5,1053.8 L616.2,1056.4 L617.6,1060.4 L619.5,1063.2 L621.7,1065.7 L624.7,1067.8 L627.7,1068.2 L629.9,1066.4 L633.1,1069.4 L635.8,1067.9 L638.1,1071.0 L641.5,1069.3 L644.2,1068.7 L646.5,1069.9 L649.0,1071.4 L652.0,1069.9 L655.2,1069.3 L658.3,1070.4 L661.4,1072.6 L664.2,1069.9 L666.6,1070.2 L669.6,1071.7 L672.7,1071.9 L675.3,1071.1 L678.0,1071.6 L680.7,1071.2 L683.4,1071.4 L686.8,1073.2 L689.1,1070.5 L691.3,1073.0 L694.2,1071.5 L697.1,1072.4 L700.4,1071.3 L703.4,1072.3 L706.1,1070.9 L708.3,1073.4 L711.1,1071.9 L714.0,1071.0 L716.4,1071.9 L719.4,1072.4 L721.9,1070.9 L724.0,1074.5 L727.1,1070.8 L730.7,1074.1 L733.4,1072.1 L736.6,1072.3 L739.8,1073.6 L742.5,1071.8 L745.2,1070.6 L747.9,1074.0 L751.1,1071.4 L754.4,1073.8 L757.6,1072.2 L760.3,1073.9 L762.5,1073.9 L764.6,1074.7 L767.8,1073.7 L770.4,1072.6 L773.0,1073.8 L775.6,1071.9 L779.2,1074.6 L781.7,1073.2 L785.1,1074.9 L788.4,1073.5 L790.8,1072.3 L793.5,1075.0 L796.6,1071.4 L800.0,1074.5 L802.9,1071.5 L806.5,1074.1 L808.8,1072.4 L812.3,1073.7 L814.6,1071.3 L817.5,1070.8 L820.3,1073.7 L823.6,1071.3 L826.3,1073.1 L830.0,1070.7 L832.6,1071.6 L835.5,1069.5 L838.8,1070.0 L841.9,1072.3 L844.3,1070.2 L847.3,1071.2 L849.7,1070.4 L853.0,1068.0 L855.9,1069.3 L858.6,1069.9 L860.0,1068.5" fill="none" stroke="#1a1a1a" stroke-width="3.0" stroke-linejoin="round" stroke-linecap="round" />
<path d="M113.0,1102.0 L115.5,1099.9 L118.0,1102.3 L120.5,1099.7 L123.3,1101.6 L126.3,1101.2 L128.8,1104.4 L132.1,1103.3 L134.6,1102.6 L137.7,1099.6 L140.9,1101.9 L143.5,1097.6 L146.1,1098.8 L148.8,1096.5 L151.5,1098.3 L154.2,1095.2 L156.7,1096.0 L160.0,1095.7 L162.9,1093.8 L165.8,1093.8 L168.7,1094.9 L171.4,1095.8 L174.6,1097.7 L177.1,1095.5 L179.6,1095.1 L182.0,1092.3 L184.7,1092.3 L186.8,1091.2 L189.3,1086.8 L191.6,1087.2 L194.0,1083.3 L197.3,1080.2 L199.3,1081.7 L202.5,1082.1 L205.2,1084.6 L207.4,1084.9 L210.5,1087.8 L212.6,1084.0 L215.4,1085.2 L218.9,1083.5 L222.1,1086.9 L224.5,1086.5 L226.8,1083.3 L229.7,1081.5 L232.1,1079.9 L234.7,1076.7 L237.1,1074.5 L239.2,1071.5 L240.7,1067.5 L242.4,1063.9 L243.8,1060.3 L245.4,1057.6 L246.6,1053.9 L248.0,1050.7 L249.4,1047.0 L250.7,1043.0 L251.9,1040.0 L252.5,1036.6 L253.3,1033.6 L253.9,1030.7 L254.5,1027.2 L255.2,1023.9 L255.8,1020.4 L256.4,1017.6 L256.9,1014.0 L257.6,1010.8 L258.1,1007.4 L258.7,1004.2 L259.2,1000.4 L259.8,996.9 L260.4,993.5 L260.8,990.2 L261.4,987.3 L262.0,983.6 L262.8,979.9 L263.6,976.7 L266.3,979.8 L266.8,982.9 L267.2,986.3 L267.5,989.6 L267.9,993.2 L268.3,996.4 L268.6,999.4 L269.0,1002.3 L269.3,1005.4 L269.6,1008.4 L270.0,1012.0 L270.4,1015.7 L270.8,1018.7 L271.2,1022.0 L271.5,1025.7 L271.9,1028.4 L272.2,1031.3 L272.6,1034.7 L273.0,1037.8 L273.3,1040.7 L273.7,1043.8 L274.0,1047.3 L274.4,1050.3 L274.7,1053.6 L275.0,1056.9 L275.4,1059.7 L275.8,1063.0 L276.4,1066.3 L277.1,1069.2 L277.6,1072.5 L278.5,1075.3 L279.5,1078.9 L282.0,1081.3 L284.5,1084.2 L287.9,1082.7 L290.3,1083.9 L293.3,1083.4 L296.3,1082.0 L298.4,1082.0 L301.2,1082.7 L303.4,1082.0 L305.9,1080.2 L308.4,1082.7 L311.5,1080.0 L314.2,1079.0 L317.4,1080.9 L320.5,1077.5 L323.3,1080.9 L326.6,1079.4 L328.9,1081.8 L331.5,1081.3 L335.0,1083.6 L337.9,1082.2 L340.7,1082.6 L343.1,1083.3 L345.7,1081.3 L348.9,1082.8 L351.6,1080.0 L354.8,1082.0 L356.9,1080.4 L359.5,1081.1 L362.0,1080.4 L365.5,1079.9 L368.0,1078.6 L370.5,1079.5 L373.5,1077.0 L376.5,1077.1 L379.0,1078.4 L381.5,1078.1 L384.5,1075.9 L387.0,1075.7 L390.2,1078.0 L392.8,1076.8 L395.5,1079.9 L398.2,1077.9 L400.3,1078.7 L403.3,1080.1 L405.7,1080.0 L408.4,1080.9 L411.6,1080.6 L414.3,1078.7 L417.7,1075.4 L421.0,1074.0 L423.8,1074.2 L426.8,1073.8 L430.0,1077.1 L432.7,1075.4 L436.3,1076.3 L439.6,1077.1 L442.9,1080.4 L446.4,1078.4 L448.3,1083.0 L451.5,1080.8 L454.5,1081.2 L457.4,1084.2 L460.4,1081.8 L463.0,1084.8 L465.7,1082.4 L468.4,1084.2 L471.7,1081.6 L473.8,1081.4 L477.0,1083.3 L479.0,1083.2" fill="none" stroke="#1a1a1a" stroke-width="3.0" stroke-linejoin="round" stroke-linecap="round" />
<path d="M493.7,1071.0 L494.0,1074.2 L494.3,1077.4 L494.7,1081.1 L495.2,1084.1 L495.9,1087.6 L497.1,1090.6 L498.6,1094.3 L501.2,1096.5 L502.9,1100.1 L506.5,1103.1 L509.4,1101.5 L512.7,1104.5 L515.9,1105.6 L518.6,1102.2 L521.9,1103.1 L525.1,1105.7 L528.7,1103.1 L532.4,1105.9 L535.5,1105.2 L538.1,1106.9 L540.6,1104.5 L543.0,1107.8 L546.0,1108.9 L549.2,1104.5 L552.2,1107.7 L555.2,1106.9 L557.7,1103.7 L561.0,1105.7 L563.3,1101.7 L566.5,1101.8 L569.4,1097.5 L572.2,1095.5 L574.5,1092.0 L576.2,1089.7 L577.3,1086.5 L578.8,1083.8 L579.8,1080.2 L580.9,1077.4 L581.8,1074.2 L582.7,1071.4 L583.6,1067.7 L584.7,1064.5 L585.7,1061.0 L586.6,1058.0 L587.7,1054.1 L588.6,1051.0 L589.4,1047.5 L590.5,1043.9 L593.3,1046.5 L594.5,1049.5 L595.2,1052.8 L595.9,1055.9 L596.3,1059.3 L597.1,1062.7 L598.1,1065.7 L599.2,1068.7 L600.5,1072.7 L602.8,1075.3 L605.3,1078.2 L608.7,1079.4 L610.9,1081.7 L612.4,1084.5 L613.5,1087.3 L614.4,1090.5 L615.4,1094.5 L616.8,1097.4 L618.3,1100.2 L620.0,1104.1 L622.7,1106.2 L625.3,1109.4 L628.0,1109.5 L631.0,1112.5 L634.2,1110.9 L637.3,1112.8 L640.4,1113.3 L642.8,1113.6 L645.3,1112.0 L647.7,1114.1 L650.4,1111.0 L652.9,1113.4 L655.7,1112.0 L658.7,1114.5 L662.4,1114.8 L665.2,1112.9 L668.2,1115.8 L671.3,1115.2 L674.5,1112.4 L677.2,1115.1 L679.9,1112.5 L682.7,1113.2 L685.5,1115.4 L688.4,1114.1 L690.7,1114.9 L694.2,1113.6 L697.1,1115.9 L699.4,1114.6 L701.7,1114.0 L704.7,1116.2 L707.9,1113.9 L710.2,1116.3 L713.0,1114.0 L715.5,1116.7 L717.9,1116.4 L720.9,1116.1 L724.0,1114.6 L726.5,1114.7 L729.7,1117.0 L731.8,1116.1 L735.0,1116.8 L737.6,1115.7 L740.3,1116.9 L743.0,1113.5 L745.7,1116.8 L747.9,1114.8 L750.6,1116.9 L753.3,1114.3 L756.6,1117.2 L759.3,1115.8 L762.5,1117.9 L765.2,1115.4 L768.3,1116.5 L771.5,1117.7 L774.1,1115.5 L777.1,1116.9 L779.7,1116.8 L782.7,1115.8 L786.1,1115.6 L788.4,1117.7 L791.2,1114.6 L794.0,1117.3 L797.5,1113.8 L800.0,1118.0 L802.3,1114.4 L805.9,1113.9 L809.4,1114.7 L811.7,1117.0 L814.6,1117.3 L818.0,1114.2 L821.4,1116.8 L824.2,1112.9 L826.9,1116.3 L829.0,1114.3 L831.1,1116.1 L834.1,1112.7 L836.5,1114.4 L839.3,1113.5 L841.9,1114.7 L844.7,1112.7 L847.3,1114.5 L850.7,1112.3 L853.6,1111.7 L855.9,1112.5 L859.0,1110.4 L860.0,1111.6" fill="none" stroke="#1a1a1a" stroke-width="3.0" stroke-linejoin="round" stroke-linecap="round" />
<path d="M113.0,1145.2 L115.6,1142.9 L118.2,1146.0 L121.1,1144.5 L124.0,1147.7 L126.4,1143.4 L129.5,1145.3 L132.7,1140.4 L135.8,1141.2 L138.6,1142.1 L141.9,1138.9 L145.5,1141.4 L148.8,1138.8 L151.0,1140.8 L154.2,1140.4 L156.7,1137.4 L159.3,1138.3 L162.1,1135.8 L164.6,1135.0 L167.5,1138.2 L171.0,1137.7 L173.7,1138.8 L176.4,1136.1 L179.0,1135.9 L182.1,1135.2 L185.1,1135.2 L188.2,1132.5 L190.2,1128.6 L192.0,1126.0 L194.8,1124.9 L197.3,1125.0 L200.4,1128.0 L203.3,1128.2 L206.7,1131.2 L209.4,1130.1 L212.3,1128.5 L214.5,1126.4 L217.7,1125.1 L220.6,1124.7 L221.7,1127.7 L224.2,1129.5 L226.6,1125.7 L229.6,1124.3 L232.6,1122.4 L235.8,1123.8 L237.2,1119.9 L238.6,1116.7 L239.8,1113.2 L241.4,1110.4 L242.9,1107.2 L244.9,1104.0 L246.8,1100.6 L248.0,1098.1 L248.5,1094.7 L249.6,1091.2 L251.0,1088.7 L251.9,1084.8 L253.4,1081.6 L254.2,1078.3 L255.0,1075.1 L255.7,1071.5 L256.3,1068.6 L256.9,1064.8 L257.4,1061.4 L258.0,1057.8 L258.4,1054.8 L258.8,1051.7 L259.1,1048.4 L259.4,1045.0 L259.7,1041.9 L260.1,1038.4 L260.7,1035.5 L262.7,1037.8 L263.2,1041.0 L263.7,1044.4 L264.1,1047.4 L264.4,1050.9 L264.8,1053.8 L265.2,1056.9 L265.6,1060.1 L266.0,1063.6 L266.4,1066.3 L266.9,1069.9 L267.4,1073.0 L267.8,1076.2 L268.3,1079.6 L268.8,1082.4 L269.3,1085.7 L270.0,1089.0 L270.6,1092.1 L271.2,1095.5 L271.9,1098.3 L272.6,1101.8 L273.4,1105.3 L274.3,1108.3 L275.0,1112.0 L275.8,1115.8 L276.5,1119.0 L277.4,1123.1 L280.1,1124.8 L283.6,1124.1 L286.0,1122.2 L288.9,1124.6 L291.6,1122.8 L294.4,1125.3 L297.2,1123.9 L299.5,1125.1 L301.9,1124.9 L305.5,1126.6 L308.5,1122.6 L312.2,1123.3 L314.7,1121.6 L317.7,1123.1 L321.0,1123.1 L323.9,1123.1 L327.2,1126.4 L329.9,1128.0 L332.7,1127.5 L336.0,1129.2 L338.3,1127.4 L341.5,1126.2 L343.9,1127.5 L346.3,1126.1 L348.9,1124.0 L351.8,1125.3 L354.2,1122.3 L357.9,1122.9 L361.2,1121.6 L363.9,1122.6 L366.6,1122.6 L369.6,1120.9 L372.0,1122.6 L374.2,1122.0 L376.7,1118.9 L379.2,1120.9 L382.0,1117.5 L385.0,1117.4 L387.8,1119.2 L390.8,1119.5 L393.3,1120.3 L396.4,1119.8 L399.0,1121.1 L402.0,1121.3 L404.9,1118.5 L407.4,1120.1 L409.8,1119.8 L412.4,1117.8 L415.0,1117.2 L417.9,1119.5 L420.4,1116.6 L422.9,1119.0 L426.1,1117.7 L428.6,1118.2 L431.2,1120.7 L434.5,1119.8 L437.5,1121.8 L440.3,1123.4 L443.5,1122.4 L446.3,1123.7 L450.0,1126.3 L453.0,1124.6 L455.8,1125.2 L458.3,1124.5 L460.8,1127.2 L463.4,1125.9 L465.4,1128.4 L468.1,1125.7 L470.7,1129.4 L473.9,1125.9 L476.5,1127.2 L479.0,1127.6" fill="none" stroke="#1a1a1a" stroke-width="3.0" stroke-linejoin="round" stroke-linecap="round" />
<path d="M493.7,1135.0 L496.5,1138.8 L499.4,1140.3 L502.2,1145.2 L504.8,1145.0 L507.6,1146.3 L510.5,1146.4 L513.4,1146.5 L516.3,1150.9 L518.8,1146.7 L521.4,1147.7 L525.0,1146.8 L528.1,1148.4 L531.1,1148.3 L534.2,1150.3 L537.3,1150.2 L539.7,1149.2 L542.6,1150.1 L545.1,1151.7 L548.4,1148.2 L551.7,1148.1 L554.5,1145.7 L557.7,1144.4 L560.1,1145.2 L563.1,1141.3 L566.0,1140.6 L567.5,1137.1 L569.4,1133.6 L570.9,1130.8 L571.9,1127.4 L573.2,1124.4 L574.0,1121.4 L574.9,1118.6 L575.8,1115.0 L576.8,1112.0 L577.6,1109.4 L578.3,1106.6 L578.9,1103.3 L580.0,1100.2 L580.9,1096.6 L582.3,1093.6 L584.8,1089.6 L586.9,1091.5 L588.6,1094.5 L589.2,1098.2 L590.0,1101.3 L590.6,1104.7 L591.1,1107.5 L591.6,1110.7 L592.2,1114.0 L593.4,1116.6 L596.1,1119.9 L599.2,1119.2 L601.3,1122.7 L603.0,1126.2 L604.3,1128.5 L605.4,1132.2 L606.9,1136.2 L608.3,1140.0 L609.9,1142.7 L611.2,1146.5 L614.4,1148.5 L616.9,1152.0 L619.9,1152.4 L623.1,1154.3 L625.5,1155.9 L628.0,1156.1 L630.8,1156.1 L633.8,1157.3 L636.5,1156.1 L639.4,1158.3 L642.6,1155.3 L645.9,1157.2 L649.0,1154.9 L651.3,1157.8 L654.1,1156.4 L657.5,1156.8 L660.2,1157.2 L662.5,1157.3 L665.4,1156.1 L668.8,1157.2 L671.3,1157.6 L674.4,1155.8 L677.0,1156.2 L680.2,1158.2 L682.4,1155.3 L684.6,1157.1 L687.4,1157.2 L689.7,1155.7 L692.5,1155.0 L695.9,1158.9 L699.4,1156.8 L702.5,1159.0 L705.6,1157.5 L708.8,1157.6 L711.1,1158.2 L714.0,1156.8 L716.9,1158.7 L719.9,1157.3 L723.5,1159.1 L726.0,1158.9 L729.2,1158.5 L731.8,1157.3 L734.4,1159.1 L737.1,1157.1 L740.3,1158.0 L743.6,1159.2 L746.3,1157.3 L749.5,1160.3 L752.8,1157.7 L756.0,1157.3 L758.7,1159.9 L761.4,1159.0 L764.1,1159.9 L766.7,1158.5 L770.4,1159.6 L773.6,1157.8 L776.6,1159.6 L778.7,1157.0 L782.2,1160.1 L784.6,1157.0 L788.0,1157.6 L790.8,1160.1 L793.5,1158.6 L796.6,1158.6 L799.2,1159.6 L802.9,1159.2 L805.3,1158.5 L808.2,1156.7 L810.6,1159.1 L814.0,1157.2 L816.9,1156.9 L820.3,1158.6 L823.1,1157.3 L826.3,1158.9 L829.0,1156.0 L832.1,1157.9 L834.6,1155.3 L837.9,1157.0 L840.2,1154.2 L842.3,1156.5 L845.1,1154.9 L847.7,1156.2 L850.0,1153.0 L852.5,1155.8 L855.9,1153.2 L859.0,1153.8 L860.0,1153.0" fill="none" stroke="#1a1a1a" stroke-width="3.0" stroke-linejoin="round" stroke-linecap="round" />
<path transform="translate(799.96,977.40) scale(0.01143,-0.01143)" d="M763,0 L583,0 L583,1147 Q518,1085 412,1023 Q306,961 222,930 L222,1104 Q372,1174 484,1274 Q596,1374 643,1466 L763,1466 Z"/><text x="812.98" y="977.40" font-size="23.4" letter-spacing="0.0" >.6V</text>
<text x="848.6" y="1024.6" font-size="23.4" text-anchor="end" >2.0V</text>
<text x="845.2" y="1066.6" font-size="23.4" text-anchor="end" >3.0V</text>
<text x="850.2" y="1105.6" font-size="23.4" text-anchor="end" letter-spacing="0.4">Discharged</text>
<text x="850.8" y="1151.2" font-size="23.4" text-anchor="end" letter-spacing="0.3">Pristine</text>
<text x="143.2" y="879.4" font-size="34" text-anchor="middle" >(c)</text>
<text transform="translate(300.2,889.4) rotate(-90)" font-size="20.5" letter-spacing="0.5" text-anchor="middle">(0 0 3)</text>
<g transform="translate(625.6,892) rotate(-90)"><text x="-31.37" y="0.00" font-size="20.5" letter-spacing="0.5" >(</text><path transform="translate(-24.05,0.00) scale(0.01001,-0.01001)" d="M763,0 L583,0 L583,1147 Q518,1085 412,1023 Q306,961 222,930 L222,1104 Q372,1174 484,1274 Q596,1374 643,1466 L763,1466 Z"/><path transform="translate(-5.95,0.00) scale(0.01001,-0.01001)" d="M763,0 L583,0 L583,1147 Q518,1085 412,1023 Q306,961 222,930 L222,1104 Q372,1174 484,1274 Q596,1374 643,1466 L763,1466 Z"/><text x="12.15" y="0.00" font-size="20.5" letter-spacing="0.5" >3)</text></g>
<text transform="translate(86.9,1123) rotate(-90) scale(0.939,1)" font-size="36.2">Intensity [a.u.]</text>
<text x="486.6" y="1272.4" font-size="35" text-anchor="middle">2<tspan font-family="Liberation Serif" font-size="36">θ</tspan> [°]</text>
</g></svg>
</body></html>
